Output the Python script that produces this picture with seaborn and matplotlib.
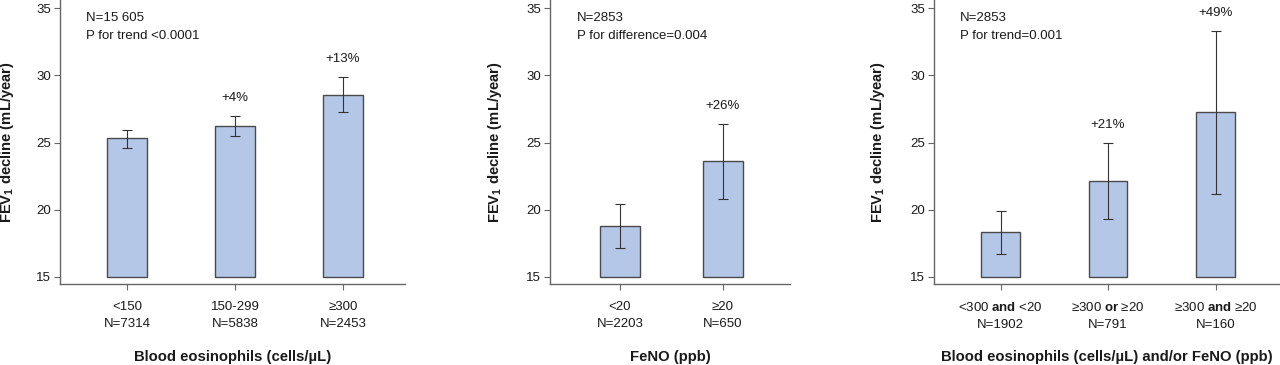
import matplotlib
matplotlib.use("Agg")
import matplotlib.pyplot as plt
import seaborn as sns
import pandas as pd

sns.set_style("white")
plt.rcParams['font.family'] = ['Liberation Sans', 'DejaVu Sans']
plt.rcParams['mathtext.fontset'] = 'custom'
plt.rcParams['mathtext.rm'] = 'Liberation Sans'
plt.rcParams['mathtext.bf'] = 'Liberation Sans:bold'
plt.rcParams['mathtext.it'] = 'Liberation Sans:italic'

# ---- data ----
eos_labels = ['<150\nN=7314', '150-299\nN=5838', '≥300\nN=2453']
eos_mean = [25.32, 26.25, 28.56]
eos_lo = [24.63, 25.50, 27.26]
eos_hi = [25.97, 26.99, 29.90]
eos_pct = ['', '+4%', '+13%']
eos_text = ['N=15 605', 'P for trend <0.0001']

feno_labels = ['<20\nN=2203', '≥20\nN=650']
feno_mean = [18.75, 23.60]
feno_lo = [17.14, 20.80]
feno_hi = [20.42, 26.37]
feno_pct = ['', '+26%']
feno_text = ['N=2853', 'P for difference=0.004']

comb_labels = ['<300 $\\mathbf{and}$ <20\nN=1902',
               '≥300 $\\mathbf{or}$ ≥20\nN=791',
               '≥300 $\\mathbf{and}$ ≥20\nN=160']
comb_mean = [18.31, 22.14, 27.26]
comb_lo = [16.69, 19.30, 21.19]
comb_hi = [19.93, 24.98, 33.33]
comb_pct = ['', '+21%', '+49%']
comb_text = ['N=2853', 'P for trend=0.001']

xlabels = ['Blood eosinophils (cells/µL)', 'FeNO (ppb)',
           'Blood eosinophils (cells/µL) and/or FeNO (ppb)']
yticks = [15, 20, 25, 30, 35]

BAR = '#b4c7e7'
EDGE = '#4a4a4a'
SPINE = '#666666'
TXT = '#1a1a1a'

W, H = 1280, 365
fig = plt.figure(figsize=(W / 100, H / 100), dpi=100)

panels = [
    dict(labels=eos_labels, mean=eos_mean, lo=eos_lo, hi=eos_hi, pct=eos_pct,
         text=eos_text, xl=xlabels[0], px=(60, 405), xlim=(-0.62, 2.574),
         width=0.37, tx=0.075, ylx=-0.128),
    dict(labels=feno_labels, mean=feno_mean, lo=feno_lo, hi=feno_hi, pct=feno_pct,
         text=feno_text, xl=xlabels[1], px=(550, 790), xlim=(-0.68, 1.65),
         width=0.38, tx=0.1125, ylx=-0.19),
    dict(labels=comb_labels, mean=comb_mean, lo=comb_lo, hi=comb_hi, pct=comb_pct,
         text=comb_text, xl=xlabels[2], px=(934, 1280), xlim=(-0.62, 2.6),
         width=0.36, tx=0.075, ylx=-0.136),
]

ax_top, ax_bot = 0, 284
for p in panels:
    x0, x1 = p['px']
    ax = fig.add_axes([x0 / W, (H - ax_bot) / H, (x1 - x0) / W, (ax_bot - ax_top) / H])
    df = pd.DataFrame({'cat': p['labels'], 'val': p['mean']})
    sns.barplot(data=df, x='cat', y='val', ax=ax, color=BAR, saturation=1,
                width=p['width'], edgecolor=EDGE, linewidth=1.0, errorbar=None)
    # bars start at 15
    for patch in ax.patches:
        top = patch.get_y() + patch.get_height()
        patch.set_y(15)
        patch.set_height(top - 15)
    xs = list(range(len(p['labels'])))
    lower = [m - l for m, l in zip(p['mean'], p['lo'])]
    upper = [h - m for m, h in zip(p['mean'], p['hi'])]
    ax.errorbar(xs, p['mean'], yerr=[lower, upper], fmt='none', ecolor='#333333',
                elinewidth=0.8, capsize=3.6, capthick=0.8, zorder=5)
    for x, h, t in zip(xs, p['hi'], p['pct']):
        if t:
            ax.annotate(t, (x, h), xytext=(0, 13), textcoords='offset points',
                        ha='center', va='center', fontsize=9.5, color=TXT)
    ax.text(p['tx'], 1 - 18 / 284, p['text'][0], transform=ax.transAxes,
            ha='left', va='center', fontsize=9.5, color=TXT)
    ax.text(p['tx'], 1 - 36 / 284, p['text'][1], transform=ax.transAxes,
            ha='left', va='center', fontsize=9.5, color=TXT)

    ax.set_ylim(14.46, 35.62)
    ax.set_xlim(*p['xlim'])
    ax.set_yticks(yticks)
    ax.set_yticklabels([str(v) for v in yticks])
    for s in ['top', 'right']:
        ax.spines[s].set_visible(False)
    for s in ['left', 'bottom']:
        ax.spines[s].set_color(SPINE)
        ax.spines[s].set_linewidth(1.0)
    ax.tick_params(axis='both', which='major', length=4.5, width=0.8,
                   color=SPINE, labelsize=9.5, labelcolor=TXT, direction='out',
                   left=True, bottom=True)
    ax.tick_params(axis='x', pad=7.5)
    ax.tick_params(axis='y', pad=2)
    for lab in ax.get_xticklabels():
        lab.set_linespacing(1.55)
    ax.set_xlabel(p['xl'], fontsize=10.7, fontweight='bold', color=TXT)
    ax.xaxis.set_label_coords(0.5, -(350 - 284) / 284)
    ax.set_ylabel('FEV$_{\\mathbf{1}}$ decline (mL/year)', fontsize=10.6,
                  fontweight='bold', color=TXT)
    ax.yaxis.set_label_coords(p['ylx'], 0.5)

fig.savefig('out.png', dpi=100)
